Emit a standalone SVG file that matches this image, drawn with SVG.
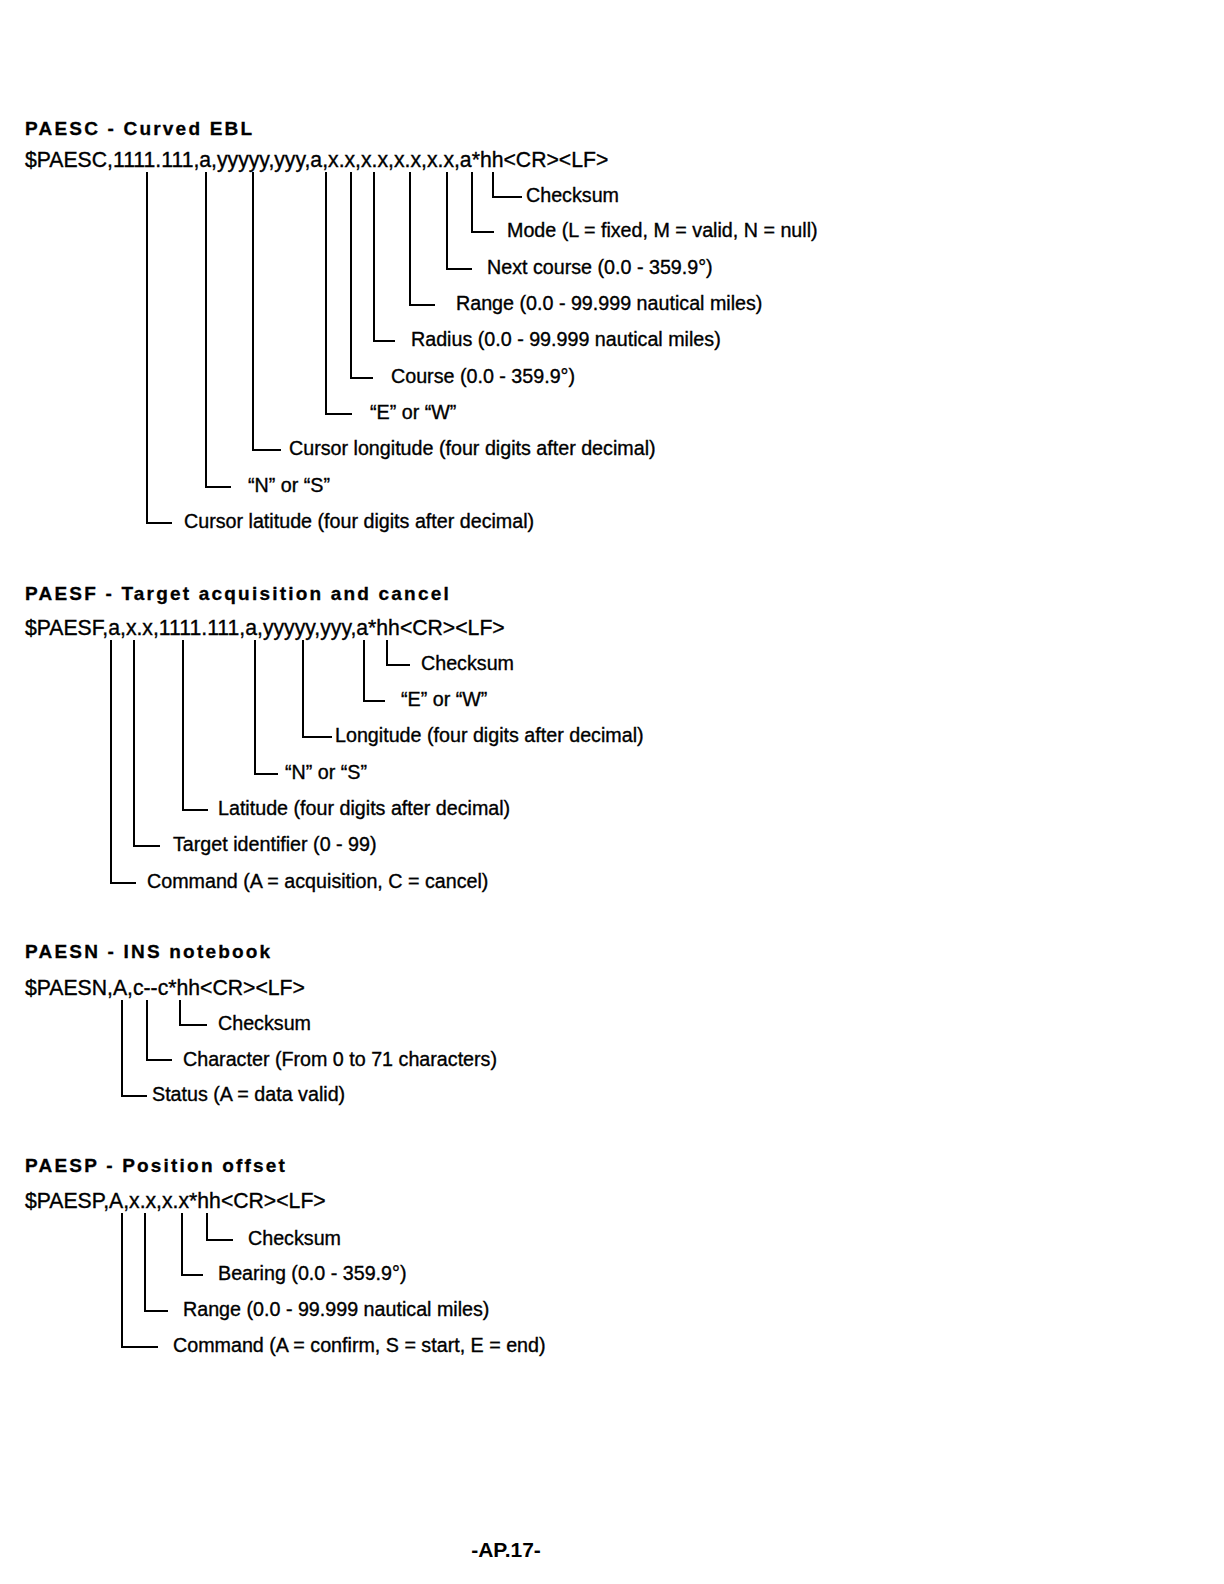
<svg xmlns="http://www.w3.org/2000/svg" width="1224" height="1584" viewBox="0 0 1224 1584">
<style>
.t{font-family:"Liberation Sans",Arial,sans-serif;font-weight:bold;font-size:19px;letter-spacing:2.2px;fill:#000;stroke:#000;stroke-width:0.3}
.s{font-family:"Liberation Sans",Arial,sans-serif;font-size:21.2px;fill:#000;stroke:#000;stroke-width:0.35}
.l{font-family:"Liberation Sans",Arial,sans-serif;font-size:19.7px;fill:#000;stroke:#000;stroke-width:0.35}
.f{font-family:"Liberation Sans",Arial,sans-serif;font-weight:bold;font-size:21px;fill:#000}
.c{fill:none;stroke:#000;stroke-width:2}
</style>
<rect width="1224" height="1584" fill="#fff"/>

<g id="paesc">
<text class="t" x="25" y="135">PAESC - Curved EBL</text>
<text class="s" x="25" y="167">$PAESC,1111.111,a,yyyyy,yyy,a,x.x,x.x,x.x,x.x,a*hh&lt;CR&gt;&lt;LF&gt;</text>
<text class="l" x="526" y="202">Checksum</text>
<text class="l" x="507" y="237">Mode (L = fixed, M = valid, N = null)</text>
<text class="l" x="487" y="274">Next course (0.0 - 359.9°)</text>
<text class="l" x="456" y="310">Range (0.0 - 99.999 nautical miles)</text>
<text class="l" x="411" y="346">Radius (0.0 - 99.999 nautical miles)</text>
<text class="l" x="391" y="383">Course (0.0 - 359.9°)</text>
<text class="l" x="370" y="419">“E” or “W”</text>
<text class="l" x="289" y="455">Cursor longitude (four digits after decimal)</text>
<text class="l" x="248" y="492">“N” or “S”</text>
<text class="l" x="184" y="528">Cursor latitude (four digits after decimal)</text>
</g>

<g id="paesf">
<text class="t" x="25" y="600">PAESF - Target acquisition and cancel</text>
<text class="s" x="25" y="635">$PAESF,a,x.x,1111.111,a,yyyyy,yyy,a*hh&lt;CR&gt;&lt;LF&gt;</text>
<text class="l" x="421" y="670">Checksum</text>
<text class="l" x="401" y="706">“E” or “W”</text>
<text class="l" x="335" y="742">Longitude (four digits after decimal)</text>
<text class="l" x="285" y="779">“N” or “S”</text>
<text class="l" x="218" y="815">Latitude (four digits after decimal)</text>
<text class="l" x="173" y="851">Target identifier (0 - 99)</text>
<text class="l" x="147" y="888">Command (A = acquisition, C = cancel)</text>
</g>

<g id="paesn">
<text class="t" x="25" y="958">PAESN - INS notebook</text>
<text class="s" x="25" y="995">$PAESN,A,c--c*hh&lt;CR&gt;&lt;LF&gt;</text>
<text class="l" x="218" y="1030">Checksum</text>
<text class="l" x="183" y="1066">Character (From 0 to 71 characters)</text>
<text class="l" x="152" y="1101">Status (A = data valid)</text>
</g>

<g id="paesp">
<text class="t" x="25" y="1172">PAESP - Position offset</text>
<text class="s" x="25" y="1208">$PAESP,A,x.x,x.x*hh&lt;CR&gt;&lt;LF&gt;</text>
<text class="l" x="248" y="1245">Checksum</text>
<text class="l" x="218" y="1280">Bearing (0.0 - 359.9°)</text>
<text class="l" x="183" y="1316">Range (0.0 - 99.999 nautical miles)</text>
<text class="l" x="173" y="1352">Command (A = confirm, S = start, E = end)</text>
</g>

<g id="footer">
<text class="f" x="506" y="1557" text-anchor="middle">-AP.17-</text>
</g>

<g id="connectors" class="c">
<!-- PAESC -->
<path d="M493 172V197H522"/>
<path d="M472 172V232H494"/>
<path d="M447 172V269H472"/>
<path d="M410 172V305H435"/>
<path d="M374 172V341H395"/>
<path d="M351 172V378H373"/>
<path d="M326 172V414H352"/>
<path d="M253 172V450H281"/>
<path d="M206 172V487H231"/>
<path d="M147 172V523H172"/>
<!-- PAESF -->
<path d="M387 640V665H410"/>
<path d="M364 640V701H385"/>
<path d="M303 640V737H332"/>
<path d="M255 640V774H278"/>
<path d="M183 640V810H208"/>
<path d="M134 640V846H160"/>
<path d="M111 640V883H136"/>
<!-- PAESN -->
<path d="M180 1000V1025H207"/>
<path d="M147 1000V1060H172"/>
<path d="M122 1000V1096H147"/>
<!-- PAESP -->
<path d="M207 1213V1240H233"/>
<path d="M182 1213V1275H203"/>
<path d="M145 1213V1311H168"/>
<path d="M122 1213V1347H158"/>
</g>
</svg>
